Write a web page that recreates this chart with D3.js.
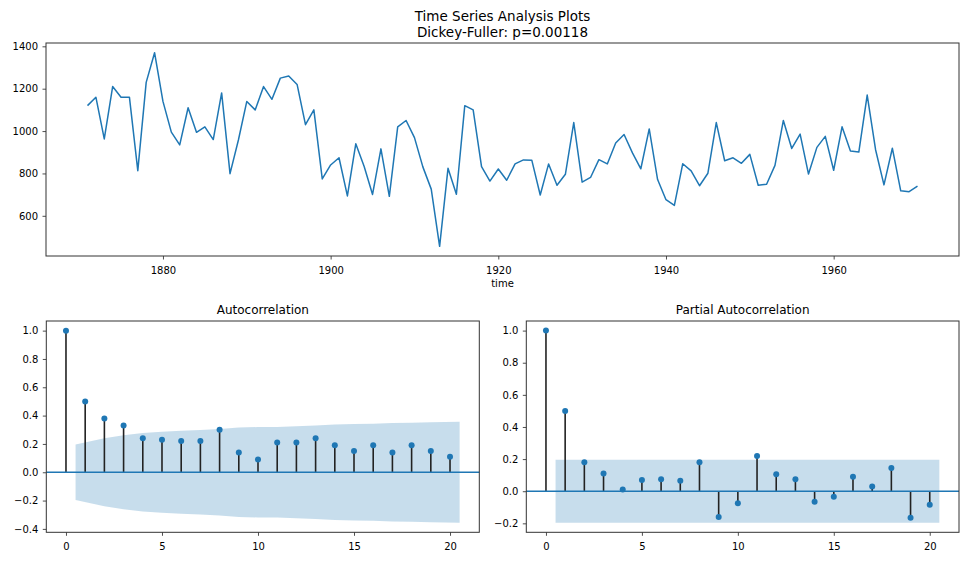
<!DOCTYPE html>
<html>
<head>
<meta charset="utf-8">
<script src="https://cdn.jsdelivr.net/npm/d3@7"></script>
<style>
  body { margin: 0; background: #fff; }
  svg text { font-family: "DejaVu Sans", sans-serif; fill: #000; }
</style>
</head>
<body>
<script>
// Width and height
var w = 978;
var h = 563;

// Annual flow, 1871-1970
var years = d3.range(1871, 1971);
var flow = [1120, 1160, 963, 1210, 1160, 1160, 813, 1230, 1370, 1140,
            995, 935, 1110, 994, 1020, 960, 1180, 799, 958, 1140,
            1100, 1210, 1150, 1250, 1260, 1220, 1030, 1100, 774, 840,
            874, 694, 940, 833, 701, 916, 692, 1020, 1050, 969,
            831, 726, 456, 824, 702, 1120, 1100, 832, 764, 821,
            768, 845, 864, 862, 698, 845, 744, 796, 1040, 759,
            781, 865, 845, 944, 984, 897, 822, 1010, 771, 676,
            649, 846, 812, 742, 801, 1040, 860, 874, 848, 890,
            744, 749, 838, 1050, 918, 986, 797, 923, 975, 815,
            1020, 906, 901, 1170, 912, 746, 919, 718, 714, 740];

// Lags and correlations
var lags = d3.range(0, 21);
var acf = [1.0, 0.50, 0.38, 0.33, 0.24, 0.23, 0.22, 0.22, 0.30, 0.14,
           0.09, 0.21, 0.21, 0.24, 0.19, 0.15, 0.19, 0.14, 0.19, 0.15, 0.11];
var acfBand = [0.196, 0.240, 0.262, 0.278, 0.286, 0.293, 0.299, 0.305, 0.316, 0.319,
               0.320, 0.325, 0.330, 0.337, 0.341, 0.343, 0.347, 0.349, 0.353, 0.356];
var pacf = [1.0, 0.50, 0.18, 0.11, 0.01, 0.07, 0.075, 0.065, 0.18, -0.16,
            -0.075, 0.22, 0.105, 0.075, -0.065, -0.035, 0.09, 0.03, 0.145, -0.165, -0.085];
var pacfBand = [0.196, 0.196, 0.196, 0.196, 0.196, 0.196, 0.196, 0.196, 0.196, 0.196,
                0.196, 0.196, 0.196, 0.196, 0.196, 0.196, 0.196, 0.196, 0.196, 0.196];

// Tick labels
var yearTicks = [1880, 1900, 1920, 1940, 1960];
var flowTicks = [600, 800, 1000, 1200, 1400];
var lagTicks = [0, 5, 10, 15, 20];
var acfTicks = [-0.4, -0.2, 0.0, 0.2, 0.4, 0.6, 0.8, 1.0];
var pacfTicks = [-0.2, 0.0, 0.2, 0.4, 0.6, 0.8, 1.0];

var blue = "#1f77b4";

var svg = d3.select("body")
            .append("svg")
            .attr("width", w)
            .attr("height", h);

// Draw frame, ticks and labels of one panel
function drawAxes(g, x, y, xt, yt, xfmt, yfmt) {
  var x0 = x.range()[0], x1 = x.range()[1];
  var y0 = y.range()[0], y1 = y.range()[1];

  var xa = g.append("g")
            .attr("transform", "translate(0," + y0 + ")")
            .call(d3.axisBottom(x).tickValues(xt).tickFormat(xfmt)
                    .tickSize(3.5).tickPadding(7.5).tickSizeOuter(0));
  var ya = g.append("g")
            .attr("transform", "translate(" + x0 + ",0)")
            .call(d3.axisLeft(y).tickValues(yt).tickFormat(yfmt)
                    .tickSize(3.5).tickPadding(4.5).tickSizeOuter(0));
  [xa, ya].forEach(function(a) {
    a.select(".domain").remove();
    a.selectAll(".tick line").attr("stroke", "#222").attr("stroke-width", 0.8);
    a.selectAll(".tick text").attr("font-size", 10).attr("fill", "#1a1a1a")
     .style("font-family", "DejaVu Sans");
  });

  g.append("rect")
   .attr("x", x0).attr("y", y1)
   .attr("width", x1 - x0).attr("height", y0 - y1)
   .attr("fill", "none")
   .attr("stroke", "#333")
   .attr("stroke-width", 1);
}

// ---------- Top: time series ----------
var xT = d3.scaleLinear().domain([1866.05, 1974.95]).range([46, 959]);
var yT = d3.scaleLinear().domain([410.3, 1415.7]).range([256, 43]);

var topG = svg.append("g");

topG.append("path")
   .datum(flow)
   .attr("d", d3.line()
              .x(function(d, i) { return xT(years[i]); })
              .y(function(d) { return yT(d); }))
   .attr("fill", "none")
   .attr("stroke", blue)
   .attr("stroke-width", 1.5)
   .attr("stroke-linejoin", "round");

drawAxes(topG, xT, yT, yearTicks, flowTicks, d3.format("d"), d3.format("d"));

topG.append("text")
   .attr("x", 502.5).attr("y", 21)
   .attr("text-anchor", "middle")
   .attr("font-size", 13.5)
   .text("Time Series Analysis Plots");
topG.append("text")
   .attr("x", 502.5).attr("y", 36.7)
   .attr("text-anchor", "middle")
   .attr("font-size", 13.5)
   .text("Dickey-Fuller: p=0.00118");
topG.append("text")
   .attr("x", 502.5).attr("y", 287)
   .attr("text-anchor", "middle")
   .attr("font-size", 10)
   .text("time");

// ---------- Correlation panels ----------
function corrPanel(left, right, yDomain, vals, band, yt, title) {
  var x = d3.scaleLinear().domain([-1.025, 21.525]).range([left, right]);
  var y = d3.scaleLinear().domain(yDomain).range([532.3, 321]);
  var g = svg.append("g");

  // Confidence band from lag 0.5 to 20.5
  var bx = band.map(function(d, i) {
    var l = i + 1;
    if (i === 0) l = 0.5;
    if (i === band.length - 1) l = 20.5;
    return l;
  });
  g.append("path")
   .datum(band)
   .attr("d", d3.area()
              .x(function(d, i) { return x(bx[i]); })
              .y0(function(d) { return y(-d); })
              .y1(function(d) { return y(d); }))
   .attr("fill", blue)
   .attr("fill-opacity", 0.25);

  // Stems
  g.selectAll("line.stem")
   .data(vals)
   .enter()
   .append("line")
   .attr("class", "stem")
   .attr("x1", function(d, i) { return x(lags[i]); })
   .attr("x2", function(d, i) { return x(lags[i]); })
   .attr("y1", y(0))
   .attr("y2", function(d) { return y(d); })
   .attr("stroke", "#222")
   .attr("stroke-width", 1.6);

  // Zero line
  g.append("line")
   .attr("x1", left).attr("x2", right)
   .attr("y1", y(0)).attr("y2", y(0))
   .attr("stroke", blue)
   .attr("stroke-width", 1.5);

  // Markers
  g.selectAll("circle")
   .data(vals)
   .enter()
   .append("circle")
   .attr("cx", function(d, i) { return x(lags[i]); })
   .attr("cy", function(d) { return y(d); })
   .attr("r", 3)
   .attr("fill", blue);

  drawAxes(g, x, y, lagTicks, yt, d3.format("d"), function(d) {
    return d3.format(".1f")(d).replace("-", "\u2212");
  });

  g.append("text")
   .attr("x", (left + right) / 2).attr("y", 314)
   .attr("text-anchor", "middle")
   .attr("font-size", 12)
   .text(title);
}

corrPanel(46.3, 479.3, [-0.424, 1.068], acf, acfBand, acfTicks, "Autocorrelation");
corrPanel(526.3, 959, [-0.2558, 1.0598], pacf, pacfBand, pacfTicks, "Partial Autocorrelation");
</script>
</body>
</html>
